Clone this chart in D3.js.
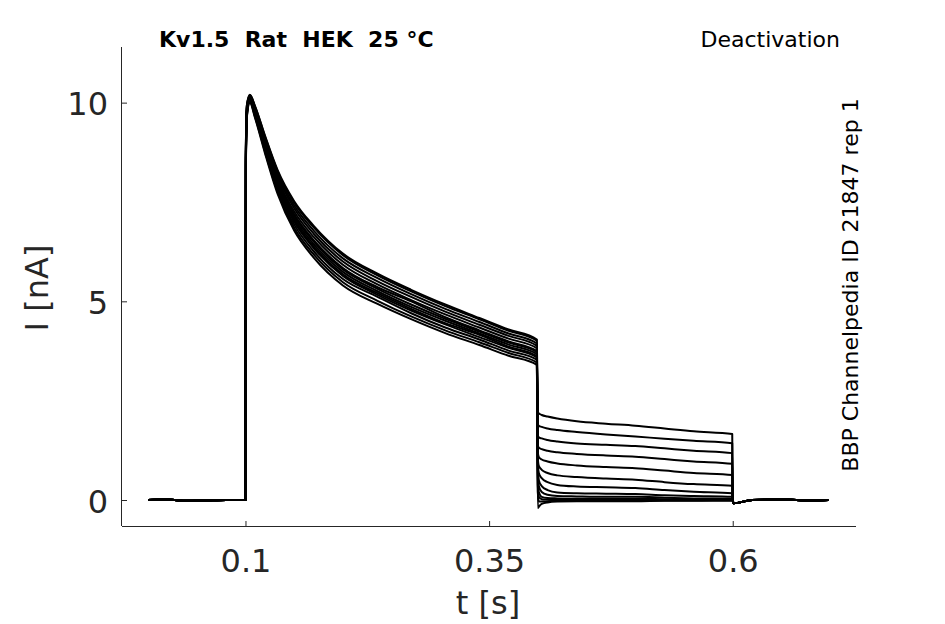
<!DOCTYPE html>
<html>
<head>
<meta charset="utf-8">
<script src="https://cdn.jsdelivr.net/npm/d3@7"></script>
<style>
  html, body { margin: 0; padding: 0; background: #fff; }
  svg { display: block; }
  text { font-family: "DejaVu Sans", sans-serif; fill: #262626; }
</style>
</head>
<body>
<svg id="chart" width="945" height="624"></svg>
<script>
// ---- data ----
const titleText = "Kv1.5  Rat  HEK  25 °C";
const protocolText = "Deactivation";
const sourceText = "BBP Channelpedia ID 21847 rep 1";

const xTicks = [0.1, 0.35, 0.6];
const xTickLabels = ["0.1", "0.35", "0.6"];
const yTicks = [0, 5, 10];
const yTickLabels = ["0", "5", "10"];

// holding period before the step (s, nA)
const tBase = [0, 0.02, 0.04, 0.06, 0.08, 0.0995];
const baseVals = [0, 0.01, -0.02, -0.01, 0.0, 0];

// activating step, one row per sweep (nA)
const tAct = [0.1, 0.1004, 0.1015, 0.1045, 0.11, 0.12, 0.133, 0.15, 0.17, 0.2, 0.235, 0.27, 0.305, 0.34, 0.37, 0.399];
const activation = [
  [0, 8.87, 9.94, 10.19, 9.89, 9.15, 8.27, 7.48, 6.86, 6.16, 5.66, 5.25, 4.88, 4.55, 4.26, 4.01],
  [0, 8.51, 9.76, 10.07, 9.71, 8.88, 7.91, 7.04, 6.38, 5.68, 5.21, 4.81, 4.45, 4.16, 3.86, 3.62],
  [0, 8.75, 9.88, 10.15, 9.83, 9.06, 8.15, 7.34, 6.70, 6.00, 5.51, 5.11, 4.74, 4.41, 4.13, 3.88],
  [0, 8.36, 9.68, 10.02, 9.63, 8.77, 7.76, 6.85, 6.18, 5.48, 5.02, 4.62, 4.27, 3.97, 3.70, 3.46],
  [0, 8.63, 9.82, 10.11, 9.77, 8.97, 8.03, 7.19, 6.54, 5.84, 5.36, 5.00, 4.60, 4.27, 3.99, 3.75],
  [0, 8.81, 9.91, 10.17, 9.86, 9.10, 8.21, 7.41, 6.78, 6.08, 5.59, 5.18, 4.81, 4.48, 4.19, 3.94],
  [0, 8.42, 9.71, 10.04, 9.66, 8.82, 7.82, 6.93, 6.26, 5.56, 5.12, 4.70, 4.34, 4.04, 3.76, 3.53],
  [0, 8.69, 9.85, 10.13, 9.80, 9.02, 8.09, 7.26, 6.62, 5.92, 5.43, 5.03, 4.67, 4.34, 4.06, 3.82],
  [0, 8.30, 9.65, 10.00, 9.60, 8.73, 7.70, 6.78, 6.10, 5.40, 4.94, 4.55, 4.20, 3.90, 3.63, 3.40],
  [0, 8.60, 9.80, 10.10, 9.75, 8.95, 8.00, 7.15, 6.50, 5.80, 5.32, 4.92, 4.56, 4.24, 3.96, 3.72],
  [0, 8.48, 9.74, 10.06, 9.69, 8.86, 7.88, 7.00, 6.34, 5.64, 5.17, 4.77, 4.42, 4.10, 3.83, 3.59],
  [0, 8.90, 9.95, 10.20, 9.90, 9.17, 8.30, 7.52, 6.90, 6.20, 5.70, 5.29, 4.92, 4.58, 4.29, 4.04],
  [0, 8.56, 9.78, 10.09, 9.73, 8.92, 7.96, 7.09, 6.44, 5.74, 5.26, 4.86, 4.51, 4.19, 3.91, 3.67]
];

// tail (deactivation) step, one row per sweep (nA)
const tTail = [0.4, 0.401, 0.404, 0.41, 0.42, 0.44, 0.47, 0.5, 0.53, 0.56, 0.5995];
const tail = [
  [2.22, 2.18, 2.14, 2.10, 2.05, 1.98, 1.92, 1.87, 1.80, 1.73, 1.66],
  [1.90, 1.87, 1.84, 1.80, 1.76, 1.71, 1.65, 1.60, 1.54, 1.49, 1.43],
  [1.62, 1.58, 1.55, 1.51, 1.47, 1.42, 1.39, 1.36, 1.30, 1.24, 1.18],
  [1.38, 1.32, 1.28, 1.24, 1.20, 1.16, 1.12, 1.09, 1.03, 0.97, 0.91],
  [1.20, 1.08, 1.02, 0.97, 0.92, 0.87, 0.83, 0.80, 0.74, 0.68, 0.63],
  [1.05, 0.86, 0.76, 0.68, 0.62, 0.58, 0.54, 0.51, 0.45, 0.40, 0.36],
  [0.95, 0.68, 0.55, 0.45, 0.38, 0.34, 0.32, 0.30, 0.25, 0.21, 0.17],
  [0.85, 0.50, 0.35, 0.25, 0.19, 0.17, 0.16, 0.15, 0.12, 0.10, 0.08],
  [0.75, 0.35, 0.20, 0.13, 0.10, 0.09, 0.08, 0.08, 0.06, 0.04, 0.03],
  [0.60, 0.20, 0.08, 0.05, 0.04, 0.03, 0.03, 0.03, 0.02, 0.01, 0.01],
  [0.40, 0.08, 0.02, 0.01, 0.00, 0.00, 0.00, 0.00, 0.00, 0.00, 0.00],
  [0.20, -0.04, -0.04, -0.03, -0.02, -0.02, -0.02, -0.02, -0.01, -0.01, 0.00],
  [-0.20, -0.17, -0.10, -0.06, -0.04, -0.03, -0.03, -0.03, -0.02, -0.02, -0.02]
];

// back to holding after the tail step
const tPost = [0.6, 0.6008, 0.62, 0.65, 0.68, 0.698];
const postVals = [0, -0.08, 0, 0.01, -0.01, 0];

// ---- drawing ----
const svg = d3.select("#chart");
const plot = { left: 122, right: 856, top: 47, bottom: 526 };

const x = d3.scaleLinear().domain([-0.0267, 0.7265]).range([plot.left, plot.right]);
const y = d3.scaleLinear().domain([-0.654, 11.40]).range([plot.bottom, plot.top]);

const line = d3.line()
  .x(d => x(d[0]))
  .y(d => y(d[1]))
  .curve(d3.curveMonotoneX);

const traces = activation.map((act, i) => {
  const pts = [];
  tBase.forEach((t, j) => pts.push([t, baseVals[j]]));
  tAct.forEach((t, j) => pts.push([t, act[j]]));
  tTail.forEach((t, j) => pts.push([t, tail[i][j]]));
  tPost.forEach((t, j) => pts.push([t, postVals[j]]));
  return pts;
});

svg.append("g")
  .selectAll("path")
  .data(traces)
  .join("path")
  .attr("d", line)
  .attr("fill", "none")
  .attr("stroke", "#000")
  .attr("stroke-width", 2)
  .attr("stroke-linejoin", "round");

// axes (ticks pointing inward)
const xAxis = d3.axisBottom(x)
  .tickValues(xTicks)
  .tickFormat((d, i) => xTickLabels[i])
  .tickSizeInner(-5)
  .tickSizeOuter(0)
  .tickPadding(19);
const gx = svg.append("g")
  .attr("transform", `translate(0,${plot.bottom})`)
  .call(xAxis);
gx.select(".domain").attr("stroke", "#262626").attr("d", `M${plot.left},0.5H${plot.right}`);
gx.selectAll(".tick line").attr("stroke", "#262626");
gx.selectAll(".tick text")
  .attr("font-family", "DejaVu Sans, sans-serif")
  .attr("font-size", 32)
  .attr("fill", "#262626")
  .attr("dy", 0)
  .attr("y", 46);

const yAxis = d3.axisLeft(y)
  .tickValues(yTicks)
  .tickFormat((d, i) => yTickLabels[i])
  .tickSizeInner(-5)
  .tickSizeOuter(0)
  .tickPadding(15);
const gy = svg.append("g")
  .attr("transform", `translate(${plot.left},0)`)
  .call(yAxis);
gy.select(".domain").attr("stroke", "#262626").attr("d", `M-0.5,${plot.top}V${plot.bottom}`);
gy.selectAll(".tick line").attr("stroke", "#262626");
gy.selectAll(".tick text")
  .attr("font-family", "DejaVu Sans, sans-serif")
  .attr("font-size", 32)
  .attr("fill", "#262626")
  .attr("dy", 0)
  .attr("y", 12)
  .attr("x", -14);

// axis labels
svg.append("text")
  .attr("x", 488)
  .attr("y", 614)
  .attr("text-anchor", "middle")
  .attr("font-size", 32)
  .text("t [s]");

svg.append("text")
  .attr("transform", "translate(48,288) rotate(-90)")
  .attr("text-anchor", "middle")
  .attr("font-size", 32)
  .text("I [nA]");

// title & annotations
svg.append("text")
  .attr("x", 159)
  .attr("y", 47)
  .attr("font-size", 22)
  .attr("font-weight", "bold")
  .style("fill", "#000")
  .attr("xml:space", "preserve")
  .style("white-space", "pre")
  .text(titleText);

svg.append("text")
  .attr("x", 840)
  .attr("y", 47)
  .attr("text-anchor", "end")
  .attr("font-size", 22)
  .style("fill", "#000")
  .text(protocolText);

svg.append("text")
  .attr("transform", "translate(858,285) rotate(-90)")
  .attr("text-anchor", "middle")
  .attr("font-size", 22)
  .style("fill", "#000")
  .text(sourceText);
</script>
</body>
</html>
